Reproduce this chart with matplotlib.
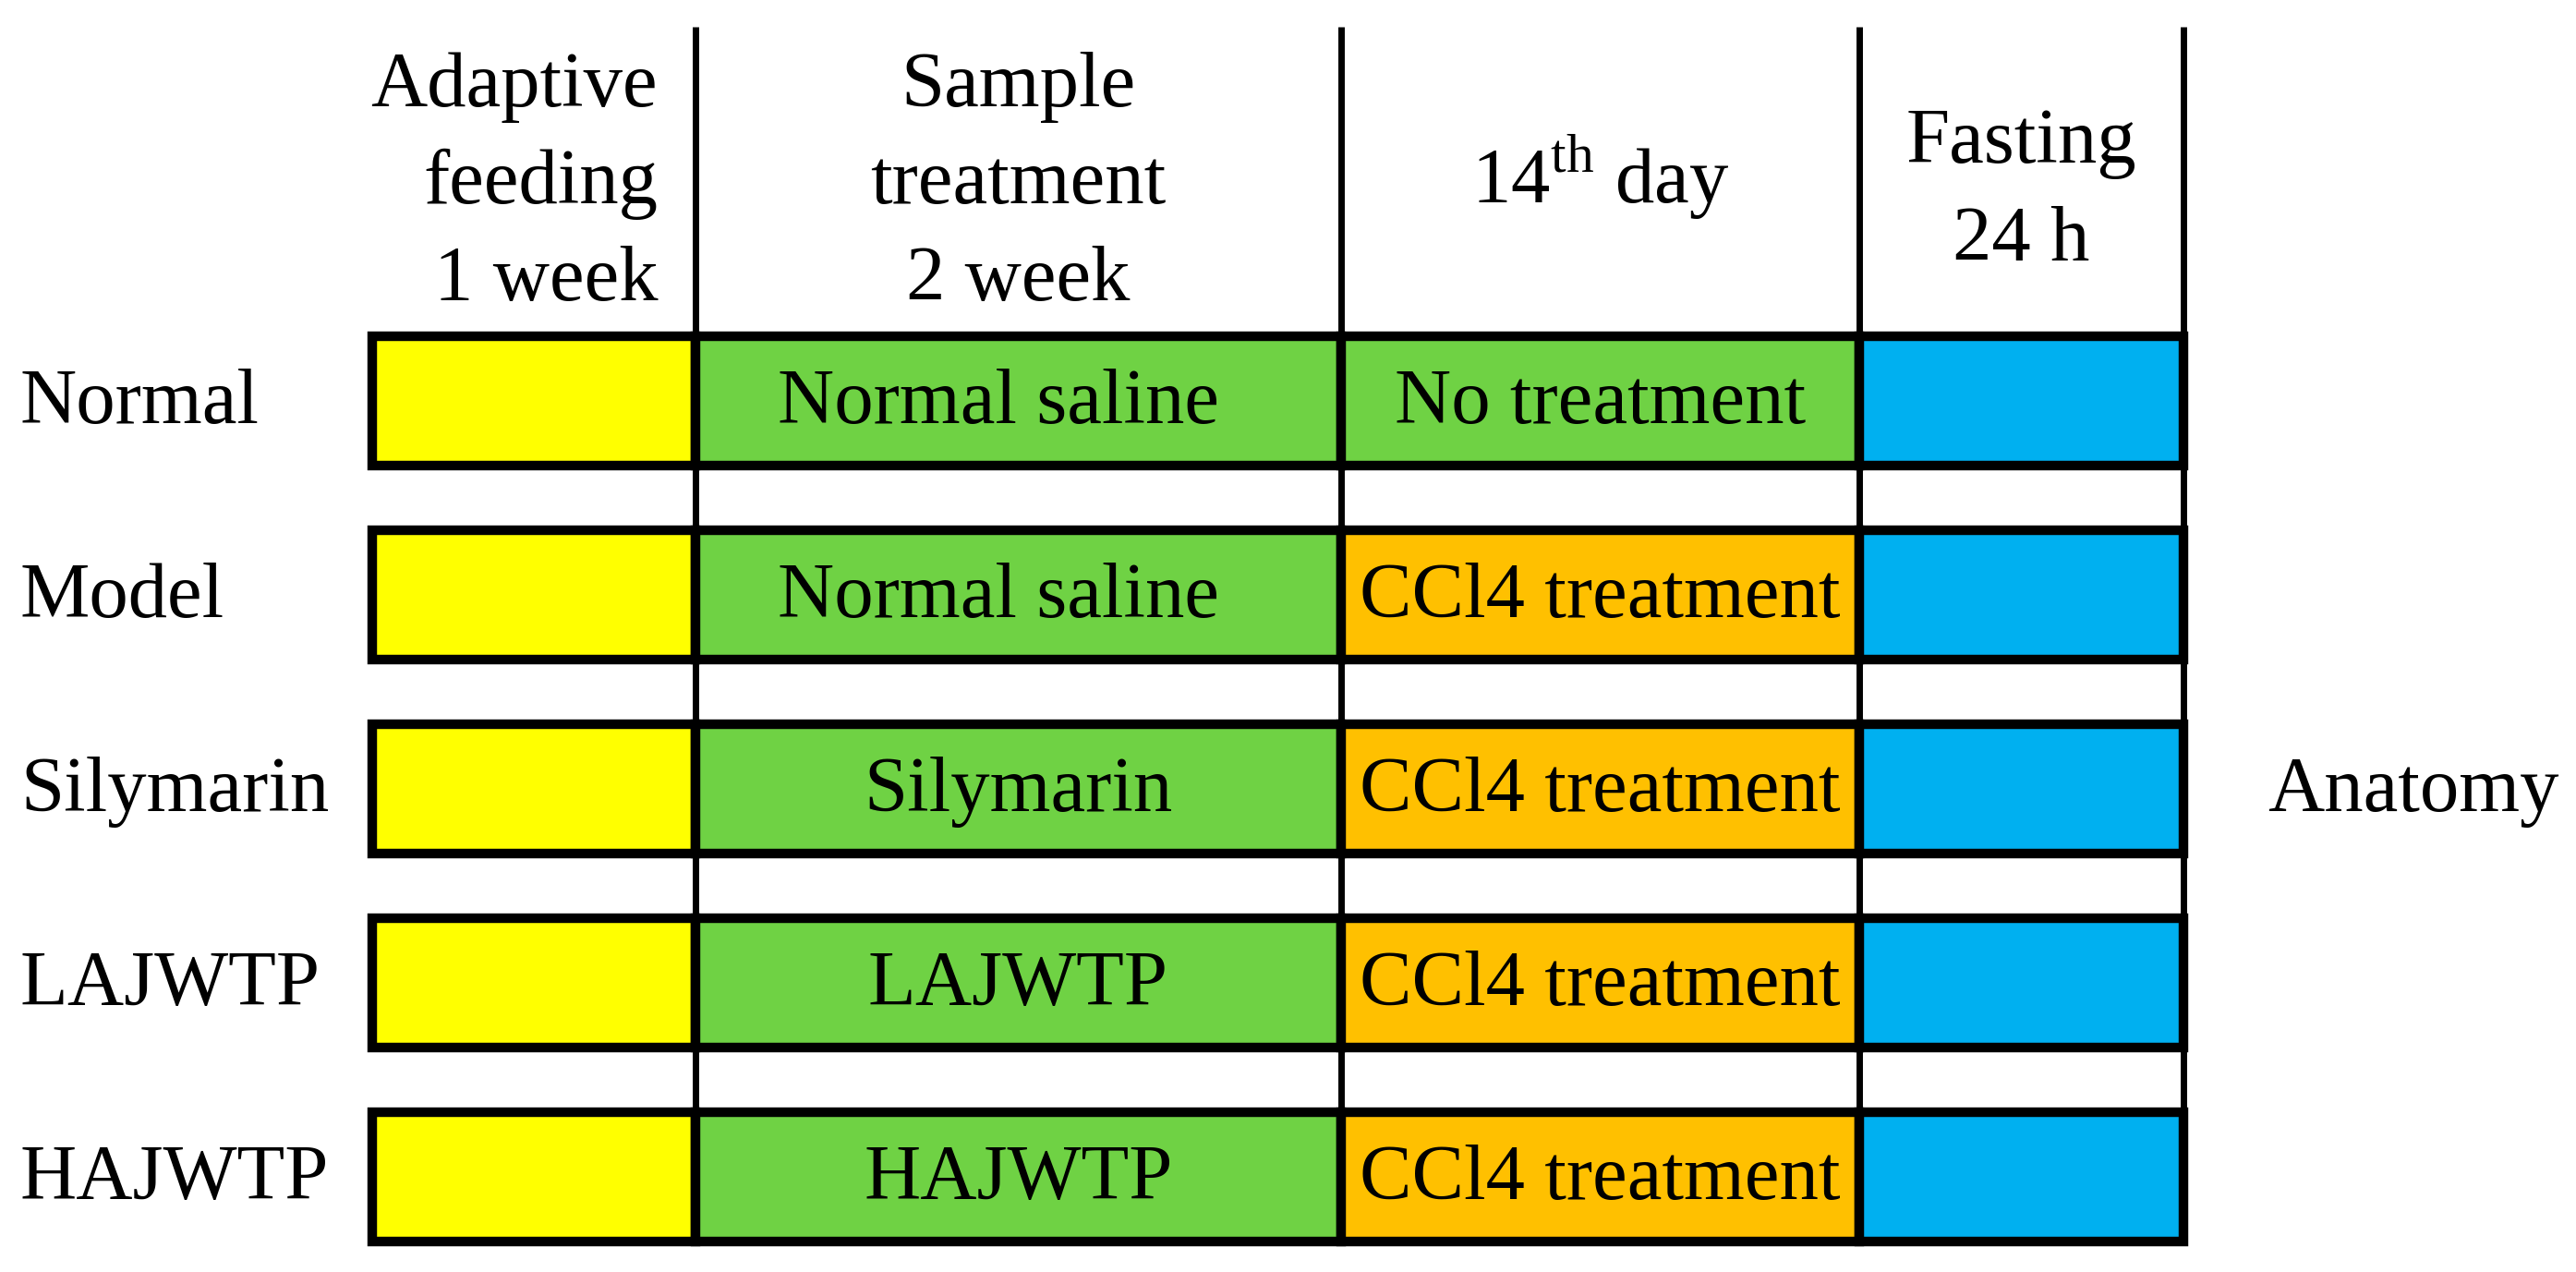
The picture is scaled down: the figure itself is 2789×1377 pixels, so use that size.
import matplotlib
matplotlib.use('Agg')
import matplotlib.pyplot as plt
from matplotlib.patches import Rectangle

plt.rcParams['font.family'] = ['Liberation Serif', 'DejaVu Serif']
plt.rcParams['mathtext.fontset'] = 'custom'
plt.rcParams['mathtext.rm'] = 'Liberation Serif'

W, H = 2789, 1377   # canvas in pixels, drawn with dpi=100
FS = 61             # font size (pt)

# -------------------------------------------------------------
# the data: groups, stages and what happens in each cell

GROUPS = ['Normal', 'Model', 'Silymarin', 'LAJWTP', 'HAJWTP']

HEADERS = [['Adaptive', 'feeding', '1 week'],
           ['Sample', 'treatment', '2 week'],
           ['14$^{\\mathrm{th}}$ day'],
           ['Fasting', '24 h']]

SAMPLE_TEXT = ['Normal saline  ', 'Normal saline  ', 'Silymarin', 'LAJWTP', 'HAJWTP']
DAY14_TEXT = ['No treatment', 'CCl4 treatment', 'CCl4 treatment',
              'CCl4 treatment', 'CCl4 treatment']

YELLOW = '#FFFF00'
GREEN = '#6FD244'
ORANGE = '#FFC000'
BLUE = '#00B0F0'
DAY14_COLOR = [GREEN, ORANGE, ORANGE, ORANGE, ORANGE]

END_LABEL = 'Anatomy'

# -------------------------------------------------------------
# layout (pixels)

COL_EDGES = [403, 753, 1452, 2013, 2364]
ROW_TOP0 = 364
ROW_PITCH = 210
ROW_H = 140
HEAD_MID = [220, 220, 220, 229]
HEAD_SPACING = 105
BOX_LW = 7.5
HEAD_LW = 5.0


if __name__ == '__main__':

    fig = plt.figure(figsize=(W/100, H/100), dpi=100)
    ax = fig.add_axes([0, 0, 1, 1])
    ax.set_xlim(0, W)
    ax.set_ylim(H, 0)
    ax.axis('off')

    last_bottom = ROW_TOP0 + (len(GROUPS) - 1)*ROW_PITCH + ROW_H

    # thin column lines running from the header down through the rows
    for x in COL_EDGES[1:]:
        ax.plot([x, x], [29, last_bottom], color='black', lw=HEAD_LW,
                solid_capstyle='butt', zorder=1)

    # header text
    for c, lines in enumerate(HEADERS):
        x0, x1 = COL_EDGES[c], COL_EDGES[c+1]
        n = len(lines)
        for k, line in enumerate(lines):
            yb = HEAD_MID[c] + (k - (n - 1)/2.)*HEAD_SPACING
            if c == 0:
                ax.text(712, yb, line, ha='right', va='baseline', fontsize=FS)
            else:
                ax.text((x0 + x1)/2., yb, line, ha='center', va='baseline', fontsize=FS)

    # rows of boxes
    for i, grp in enumerate(GROUPS):
        top = ROW_TOP0 + i*ROW_PITCH
        yc = top + ROW_H/2.
        colors = [YELLOW, GREEN, DAY14_COLOR[i], BLUE]
        texts = ['', SAMPLE_TEXT[i], DAY14_TEXT[i], '']
        for c in range(4):
            x0, x1 = COL_EDGES[c], COL_EDGES[c+1]
            ax.add_patch(Rectangle((x0, top), x1 - x0, ROW_H, facecolor=colors[c],
                                   edgecolor='black', lw=BOX_LW, joinstyle='miter',
                                   zorder=2))
            if texts[c]:
                ax.text((x0 + x1)/2., yc + 24, texts[c], ha='center', va='baseline',
                        fontsize=FS, zorder=3)
        ax.text(22, yc + 24, grp, ha='left', va='baseline', fontsize=FS)

    mid = (ROW_TOP0 + last_bottom)/2.
    ax.text(2455, mid + 24, END_LABEL, ha='left', va='baseline', fontsize=FS)

    fig.savefig('out.png', dpi=100, facecolor='white')
